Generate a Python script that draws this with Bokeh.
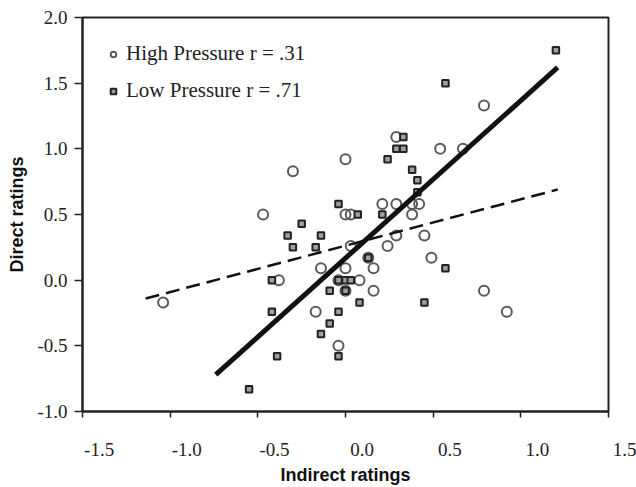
from bokeh.plotting import figure
from bokeh.models import (Range1d, FixedTicker, NumeralTickFormatter, Legend, LegendItem)
from bokeh.embed import file_html
from bokeh.resources import INLINE

# High pressure group (open circles)
high_x = [0.79, 0.29, 0.54, 0.67, 0.00, -0.30, 0.21, 0.29, 0.38, 0.42,
          -0.47, 0.00, 0.03, 0.38, 0.29, 0.45, 0.03, 0.24, 0.13, 0.49,
          -0.14, 0.00, 0.16, -0.38, -0.04, 0.08, 0.00, 0.16, 0.79, -1.04,
          -0.17, 0.92, -0.04]
high_y = [1.33, 1.09, 1.00, 1.00, 0.92, 0.83, 0.58, 0.58, 0.58, 0.58,
          0.50, 0.50, 0.50, 0.50, 0.34, 0.34, 0.26, 0.26, 0.17, 0.17,
          0.09, 0.09, 0.09, 0.00, 0.00, 0.00, -0.08, -0.08, -0.08, -0.17,
          -0.24, -0.24, -0.50]

# Low pressure group (squares)
low_x = [1.20, 0.57, 0.33, 0.29, 0.33, 0.24, 0.38, 0.41, 0.41, -0.04,
         0.07, 0.21, -0.25, -0.33, -0.14, -0.30, -0.17, 0.13, 0.57, -0.42,
         -0.04, 0.00, 0.03, -0.09, 0.00, 0.08, 0.45, -0.42, -0.04, -0.09,
         -0.14, -0.04, -0.39, -0.55]
low_y = [1.75, 1.50, 1.09, 1.00, 1.00, 0.92, 0.84, 0.76, 0.67, 0.58,
         0.50, 0.50, 0.43, 0.34, 0.34, 0.25, 0.25, 0.17, 0.09, 0.00,
         0.00, 0.00, 0.00, -0.08, -0.08, -0.17, -0.17, -0.24, -0.24, -0.33,
         -0.41, -0.58, -0.58, -0.83]

# Fitted regression lines (end points)
high_fit_x = [-1.14, 1.21]
high_fit_y = [-0.14, 0.69]
low_fit_x = [-0.74, 1.21]
low_fit_y = [-0.72, 1.62]

x_ticks = [-1.5, -1.0, -0.5, 0.0, 0.5, 1.0, 1.5]
x_tick_labels = ["-1.5", "-1.0", "-0.5", "0.0", "0.5", "1.0", "1.5"]
y_ticks = [-1.0, -0.5, 0.0, 0.5, 1.0, 1.5, 2.0]

high_label = "High Pressure r = .31"
low_label = "Low Pressure r = .71"

p = figure(width=636, height=487, x_range=Range1d(-1.5, 1.5), y_range=Range1d(-1.0, 2.0),
           output_backend="svg", toolbar_location=None,
           min_border_left=82, min_border_right=28, min_border_top=17, min_border_bottom=75)
p.grid.visible = False
p.outline_line_color = "#222222"
p.outline_line_width = 2
p.background_fill_color = "white"
p.border_fill_color = "white"

for ax in (p.xaxis[0], p.yaxis[0]):
    ax.axis_line_color = "#222222"
    ax.axis_line_width = 2
    ax.major_tick_line_color = "#222222"
    ax.major_tick_line_width = 1.5
    ax.minor_tick_line_color = None
    ax.axis_label_text_font = "Liberation Sans"
    ax.axis_label_text_font_style = "bold"
    ax.axis_label_text_font_size = "18px"
    ax.axis_label_text_color = "#111111"
    ax.major_label_text_font = "Liberation Serif"
    ax.major_label_text_font_size = "19px"
    ax.major_label_text_color = "#222222"

p.yaxis.ticker = FixedTicker(ticks=y_ticks)
p.yaxis.formatter = NumeralTickFormatter(format="0.0")
p.yaxis.major_tick_out = 8
p.yaxis.major_tick_in = 0
p.yaxis.major_label_standoff = 7
p.yaxis.axis_label = "Direct ratings"
p.yaxis.axis_label_standoff = 7

# x tick labels sit to the right of their ticks in the original chart
pad = "\u00a0" * 7
p.xaxis.ticker = FixedTicker(ticks=x_ticks)
p.xaxis.major_label_overrides = {t: pad + s for t, s in zip(x_ticks, x_tick_labels)}
p.xaxis.major_tick_out = 6
p.xaxis.major_tick_in = 0
p.xaxis.major_label_standoff = 21
p.xaxis.axis_label = "Indirect ratings"
p.xaxis.axis_label_standoff = 2

r_high = p.scatter(high_x, high_y, marker="circle", size=10, fill_color=None,
                   line_color="#5a5a5a", line_width=2)
r_low = p.scatter(low_x, low_y, marker="square", size=6.5, fill_color="#a0a0a0",
                  line_color="#222222", line_width=2)

p.line(high_fit_x, high_fit_y, line_color="#111111", line_width=2.5, line_dash="14 7")
p.line(low_fit_x, low_fit_y, line_color="#111111", line_width=5)

legend = Legend(items=[LegendItem(label=high_label, renderers=[r_high]),
                       LegendItem(label=low_label, renderers=[r_low])],
                location="top_left", margin=24, padding=16, spacing=12,
                glyph_width=14, glyph_height=24, label_height=24, label_standoff=6,
                border_line_color=None, background_fill_alpha=0,
                label_text_font="Liberation Serif", label_text_font_size="21px",
                label_text_color="#222222")
p.add_layout(legend)

open("out.html", "w").write(file_html(p, INLINE))
